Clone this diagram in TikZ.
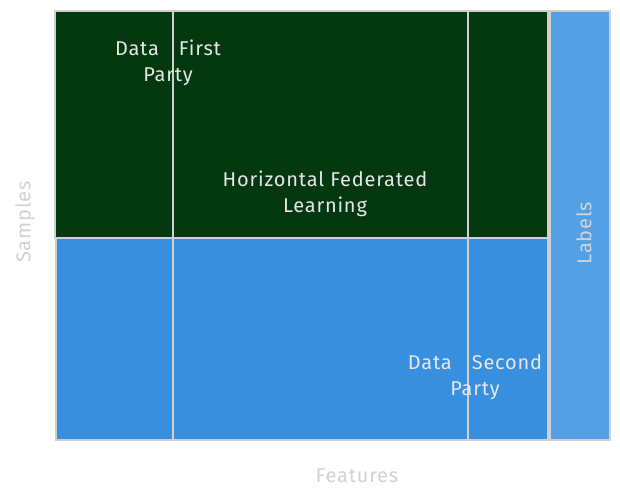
\documentclass[tikz,border=0pt]{standalone}
\usepackage{fontspec}
\setmainfont{Fira Sans}
\definecolor{dgreen}{HTML}{04380F}
\definecolor{mblue}{HTML}{378FDD}
\definecolor{lblue}{HTML}{55A0E4}
\definecolor{edge}{HTML}{D0D0D0}
\definecolor{txt}{HTML}{E6E6E6}
\definecolor{axis}{HTML}{D3D3D3}
\begin{document}
\begin{tikzpicture}[x=1pt,y=-1pt,
  region/.style={draw=edge,line width=1.8pt},
  divider/.style={draw=edge,line width=2pt},
  lab/.style={text=txt,font=\fontsize{20}{26}\selectfont\addfontfeature{LetterSpace=4},align=center,inner sep=0pt},
  axislab/.style={text=axis,font=\fontsize{20}{22}\selectfont\addfontfeature{LetterSpace=4},inner sep=0pt}]
\useasboundingbox (0,0) rectangle (620,498);
\fill[white] (0,0) rectangle (620,498);
% regions
\draw[region,fill=dgreen] (55,11) rectangle (548,238);
\draw[region,fill=mblue] (56,238) rectangle (548,440);
\draw[region,fill=lblue] (550,11) rectangle (610,440);
% dividers
\coordinate (d1t) at (173,11); \coordinate (d1b) at (173,440);
\coordinate (d2t) at (468,11); \coordinate (d2b) at (468,440);
\draw[divider] (d1t) -- (d1b);
\draw[divider] (d2t) -- (d2b);
\draw[divider] (55,238) -- (548,238);
% texts
\node[lab] (first) at (168,63) {Data\quad First\\Party};
\node[lab] (hfl) at (325,194) {Horizontal Federated\\Learning};
\node[lab] (second) at (475,377) {Data\quad Second\\Party};
\node[axislab,rotate=90] (labels) at (584,233) {Labels};
\node[axislab,rotate=90] (samples) at (25,222) {Samples};
\node[axislab] (features) at (357,476) {Features};
\end{tikzpicture}
\end{document}
